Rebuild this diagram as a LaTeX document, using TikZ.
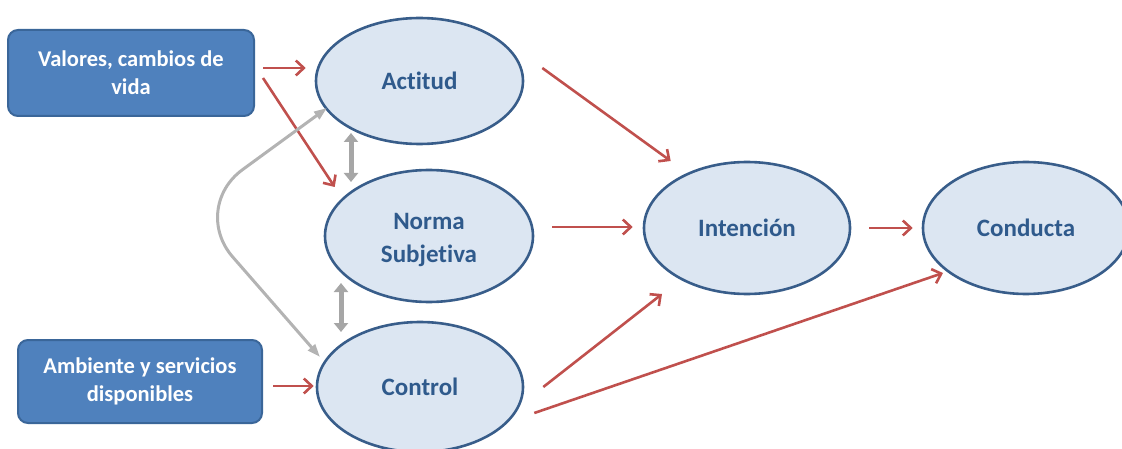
\documentclass[tikz,border=0pt]{standalone}
\usepackage{fontspec}
\setmainfont{Carlito}[Ligatures={NoCommon}]
\usetikzlibrary{shapes.geometric,arrows.meta,calc}
\definecolor{boxblue}{HTML}{4F81BD}
\definecolor{boxedge}{HTML}{3A6699}
\definecolor{ellfill}{HTML}{DCE6F2}
\definecolor{elledge}{HTML}{385D8A}
\definecolor{elltext}{HTML}{2F5A8C}
\definecolor{redarrow}{HTML}{C0504D}
\definecolor{grayarrow}{HTML}{A6A6A6}
\begin{document}
\begin{tikzpicture}[x=1pt,y=-1pt,
 elltxt/.style={font=\fontsize{25}{33}\selectfont\bfseries, text=elltext, align=center},
 ell/.style={ellipse, draw=elledge, line width=2.6pt, fill=ellfill, inner sep=0pt, elltxt},
 srcbox/.style={rectangle, rounded corners=10pt, draw=boxedge, line width=2pt, fill=boxblue, text=white, font=\fontsize{22.5}{28}\selectfont\bfseries, align=center, inner sep=0pt},
 redarr/.style={draw=redarrow, line width=2.6pt, -{Straight Barb[length=8pt,width=15pt]}},
 grayarr/.style={draw=grayarrow, line width=5pt, {Triangle[length=9pt,width=14pt]}-{Triangle[length=9pt,width=14pt]}},
 graycurve/.style={draw=grayarrow!85, line width=3pt, rounded corners=65pt, {Triangle[length=13pt,width=9pt]}-{Triangle[length=13pt,width=9pt]}},
]
\useasboundingbox (0,0) rectangle (1122,449);
\clip (0,0) rectangle (1122,449);
\node[srcbox, minimum width=246pt, minimum height=86pt] (val) at (131,73) {Valores, cambios de\\vida};
\node[srcbox, minimum width=244pt, minimum height=83pt] (amb) at (140,381.5) {Ambiente y servicios\\disponibles};
\node[ell, minimum width=207pt, minimum height=126pt] (act) at (419.5,81) {Actitud};
\node[ell, minimum width=208pt, minimum height=132pt, label={[elltxt, inner sep=0pt, yshift=-4pt]center:Norma\\Subjetiva}] (nor) at (429,236) {};
\node[ell, minimum width=206pt, minimum height=130pt] (ctl) at (420,387) {Control};
\node[ell, minimum width=206pt, minimum height=132pt] (int) at (747,228) {Intención};
\node[ell, minimum width=206pt, minimum height=132pt] (con) at (1026,228) {Conducta};
% red arrows
\draw[redarr] ([shift={(8,-5)}]val.east) -- ([shift={(-9,-13)}]act.west);
\draw[redarr] ([shift={(8,5)}]val.east) -- ([shift={(11,-49)}]nor.west);
\draw[redarr] ([shift={(18,-13)}]act.east) -- ([shift={(28,-67)}]int.west);
\draw[redarr] ([shift={(18,-9)}]nor.east) -- ([shift={(-10,-1)}]int.west);
\draw[redarr] ([shift={(18,0)}]int.east) -- ([shift={(-9,0)}]con.west);
\draw[redarr] ([shift={(10,4.5)}]amb.east) -- ([shift={(-2,-1)}]ctl.west);
\draw[redarr] ([shift={(19,0)}]ctl.east) -- ([shift={(-85,66)}]int.center);
\draw[redarr] ([shift={(10,26)}]ctl.east) -- ([shift={(-83,45)}]con.center);
% gray arrows
\draw[grayarr] ([shift={(-68.5,52)}]act.center) -- ([shift={(-78,-54)}]nor.center);
\draw[grayarr] ([shift={(-88,47)}]nor.center) -- ([shift={(-79,-55)}]ctl.center);
\coordinate (bend) at (190,208);
\draw[graycurve] ([shift={(-92.5,27)}]act.center) -- (bend) -- ([shift={(-100,-30)}]ctl.center);
\end{tikzpicture}
\end{document}
